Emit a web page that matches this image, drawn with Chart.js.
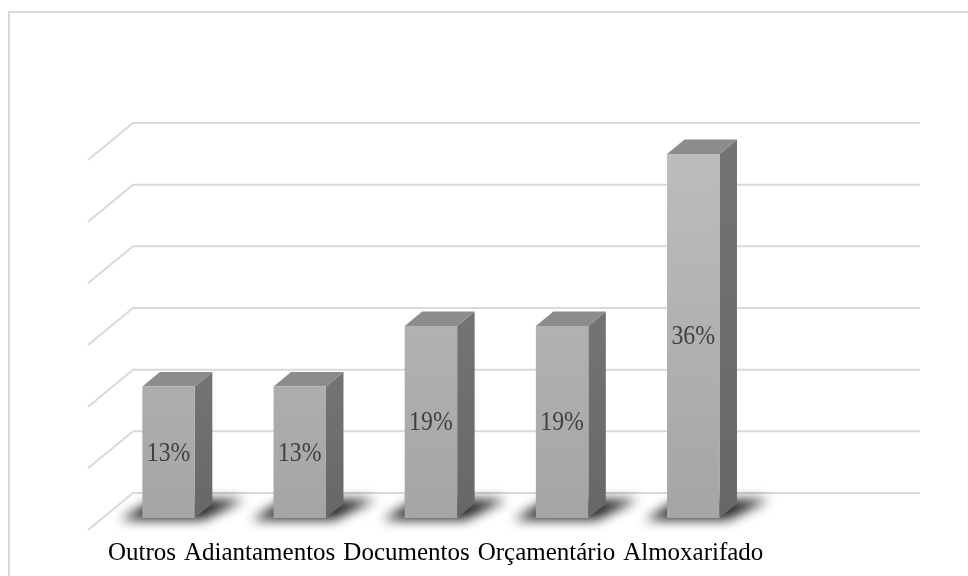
<!DOCTYPE html>
<html>
<head>
<meta charset="utf-8">
<script src="https://cdn.jsdelivr.net/npm/chart.js@4.4.1/dist/chart.umd.min.js"></script>
<style>
  html, body { margin: 0; padding: 0; background: #fff; }
  #chart { display: block; }
</style>
</head>
<body>
<canvas id="chart" width="968" height="576"></canvas>
<script>
// categories (last slot is left empty on the axis)
const categories = ['Outros', 'Adiantamentos', 'Documentos', 'Orçamentário', 'Almoxarifado', ''];
const percentValues = [13, 13, 19, 19, 36, null];
const gridStep = 6.1;
const gridCount = 6;

// oblique depth: from the bar front plane to the back wall / floor front / bar back
const toWall = { x: 30, y: -25 };
const toFloorFront = { x: -15, y: 12 };
const barDepth = { x: 17.5, y: -14.5 };

const GRID = '#d9d9d9';
const SERIF = '"Liberation Serif", "Times New Roman", serif';

const box3d = {
  id: 'box3d',
  beforeDraw(chart) {
    const ctx = chart.ctx;
    ctx.save();
    ctx.strokeStyle = GRID;
    ctx.lineWidth = 2;
    ctx.strokeRect(9, 12, 1000, 1000);
    ctx.restore();
  },
  beforeDatasetsDraw(chart) {
    const { ctx, chartArea, scales } = chart;
    const y = scales.y;

    // back wall + left wall lines
    ctx.save();
    ctx.strokeStyle = GRID;
    ctx.lineWidth = 2;
    for (let k = 0; k <= gridCount; k++) {
      const py = y.getPixelForValue(k * gridStep);
      ctx.beginPath();
      ctx.moveTo(chartArea.left + toFloorFront.x, py + toFloorFront.y);
      ctx.lineTo(chartArea.left + toWall.x, py + toWall.y);
      ctx.lineTo(chartArea.right + toWall.x, py + toWall.y);
      ctx.stroke();
    }
    ctx.restore();

    const meta = chart.getDatasetMeta(0);
    meta.data.forEach((bar, i) => {
      if (percentValues[i] == null) return;
      const { x, y: top, base, width } = bar.getProps(['x', 'y', 'base', 'width'], true);
      const x1 = x - width / 2, x2 = x + width / 2;
      const dx = barDepth.x, dy = barDepth.y;

      // soft shadow on the floor
      ctx.save();
      ctx.filter = 'blur(6px)';
      ctx.fillStyle = 'rgba(0,0,0,0.85)';
      ctx.beginPath();
      ctx.moveTo(x1 - 22, base + 2);
      ctx.lineTo(x2 + 8, base + 2);
      ctx.lineTo(x2 + dx + 32, base + dy - 4);
      ctx.lineTo(x1 + dx - 6, base + dy - 4);
      ctx.closePath();
      ctx.fill();
      ctx.restore();

      // right side face
      ctx.save();
      const sg = ctx.createLinearGradient(0, top, 0, base);
      sg.addColorStop(0, '#737373');
      sg.addColorStop(1, '#676767');
      ctx.fillStyle = sg;
      ctx.beginPath();
      ctx.moveTo(x2, top);
      ctx.lineTo(x2 + dx, top + dy);
      ctx.lineTo(x2 + dx, base + dy);
      ctx.lineTo(x2, base);
      ctx.closePath();
      ctx.fill();

      // top face
      ctx.fillStyle = '#8c8c8c';
      ctx.beginPath();
      ctx.moveTo(x1, top);
      ctx.lineTo(x1 + dx, top + dy);
      ctx.lineTo(x2 + dx, top + dy);
      ctx.lineTo(x2, top);
      ctx.closePath();
      ctx.fill();
      ctx.restore();
    });
  },
  afterDatasetsDraw(chart) {
    const { ctx, chartArea } = chart;
    const meta = chart.getDatasetMeta(0);

    // value labels in the middle of each front face
    ctx.save();
    ctx.fillStyle = '#404040';
    ctx.font = '28px ' + SERIF;
    ctx.textAlign = 'center';
    ctx.textBaseline = 'middle';
    meta.data.forEach((bar, i) => {
      if (percentValues[i] == null) return;
      const { x, y: top, base } = bar.getProps(['x', 'y', 'base'], true);
      ctx.save();
      ctx.translate(x, (top + base) / 2 + 1);
      ctx.scale(0.85, 1);
      ctx.fillText(percentValues[i] + '%', 0, 0);
      ctx.restore();
    });
    ctx.restore();

    // category labels: centred under bars, pushed left where they would overlap
    ctx.save();
    ctx.fillStyle = '#000';
    ctx.font = '25px ' + SERIF;
    ctx.textBaseline = 'alphabetic';
    const gap = 8;
    let limit = Infinity;
    for (let i = categories.length - 1; i >= 0; i--) {
      const text = categories[i];
      if (!text) continue;
      const w = ctx.measureText(text).width;
      let left = meta.data[i].x - w / 2;
      if (left + w > limit) left = limit - w;
      ctx.fillText(text, left, chartArea.bottom + 42);
      limit = left - gap;
    }
    ctx.restore();
  }
};

new Chart(document.getElementById('chart'), {
  type: 'bar',
  data: {
    labels: categories,
    datasets: [{
      data: percentValues,
      backgroundColor: (c) => {
        const area = c.chart.chartArea;
        if (!area) return '#b0b0b0';
        const g = c.chart.ctx.createLinearGradient(0, area.top, 0, area.bottom);
        g.addColorStop(0, '#bdbdbd');
        g.addColorStop(1, '#a5a5a5');
        return g;
      },
      borderWidth: 0,
      categoryPercentage: 1,
      barPercentage: 0.4
    }]
  },
  options: {
    responsive: false,
    animation: false,
    layout: { padding: { left: 103, right: 78, top: 148, bottom: 58 } },
    plugins: { legend: { display: false }, tooltip: { enabled: false } },
    scales: {
      x: { display: false },
      y: { display: false, min: 0, max: gridStep * gridCount }
    }
  },
  plugins: [box3d]
});
</script>
</body>
</html>
